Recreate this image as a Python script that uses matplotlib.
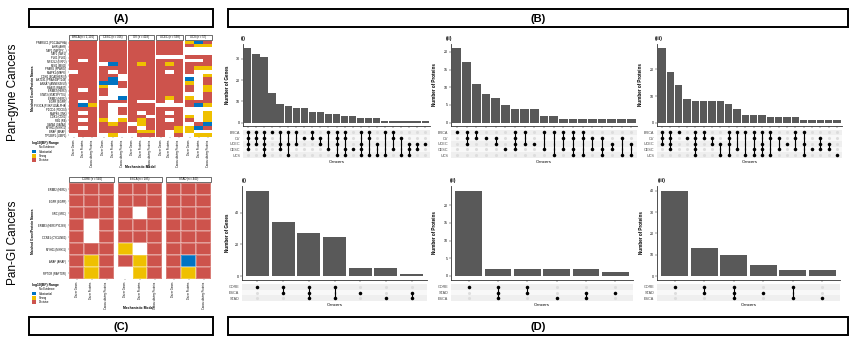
import matplotlib
matplotlib.use("Agg")
import matplotlib.pyplot as plt
from matplotlib.colors import ListedColormap
from matplotlib.patches import Patch, Rectangle
import numpy as np

plt.rcParams["font.family"] = ["Liberation Sans", "DejaVu Sans"]

W, H = 857, 347

# ---------------- data ----------------
evid_names = ["No Evidence", "Substantial", "Strong", "Decisive"]
evid_colors = ["#FFFFFF", "#0073C2", "#EFC000", "#CD534C"]
code = {"W": 0, "B": 1, "Y": 2, "R": 3}

models = ["Driver Genes", "Driver Proteins", "Cancer-driving Proteins"]

gyne_facets = ["BRCA (n = 1,100)", "CESC (n = 306)", "OV (n = 418)",
               "UCEC (n = 558)", "UCS (n = 57)"]
gyne_names = ["PPARGC1 (PGC1ALPHA)", "AHR (AHR)", "TAP1 (TAP1PY...)", "TAF1 (TAF1)",
              "PLK1 (PLK1)", "NFE2L2 (NRF2)", "MSI2 (MSI2)", "PPARG (PPARG)",
              "MAPK1 (MAPK)", "CDH1 (ECADHERIN)", "AKT1S1 (PRAS40PT246)",
              "ANXA7 (ANNEXINVII)", "RAB25 (RAB25)", "ERBB3 (HER3)",
              "STAT3 (STAT3PY705)", "ERBB2 (HER2)", "EGFR (EGFR)",
              "PIK3CA (PI3KP110ALPHA)", "PDCD4 (PDCD4)", "MAPK8 (JNK)",
              "CDK1 (CDK1)", "RB1 (RB)", "GATA3 (GATA3)", "MYH11 (MYH11)",
              "BRAF (BRAF)", "TP53BP1 (53BP1)"]
gyne_brca = ["RRR", "RRR", "RRR", "RRR", "RRR", "RWR", "RRR", "RRR", "WRR", "RRR",
             "RRR", "RRR", "RRR", "RWR", "RRR", "RRR", "RWR", "RBY", "RRR", "RWR",
             "RRR", "RWR", "RRR", "RWR", "RRR", "WRR"]
gyne_cesc = ["RRR", "RRR", "RRR", "RRR", "RRR", "RRR", "WBR", "RRR", "RWR", "RRW",
             "RBW", "BBR", "YWR", "RWW", "RWW", "WWB", "RRR", "RWW", "RWR", "RWR",
             "RWW", "YWY", "RYR", "RRR", "RRR", "WYW"]
gyne_ov = ["RRR", "RRR", "RRR", "RRR", "RRR", "RRR", "RYR", "RRR", "RRR", "RRR",
           "RRR", "RRR", "RRR", "RRR", "RRR", "RRR", "RWW", "RRR", "RRR", "RWR",
           "RRW", "RYR", "WYR", "RWR", "RYY", "WRR"]
gyne_ucec = ["RRR", "RRR", "RRR", "RRR", "WWW", "RRR", "RYR", "RRR", "RWR", "RRR",
             "RRR", "RRR", "RRR", "RRR", "RRR", "RYR", "RWR", "WWW", "RRR", "RWR",
             "RRR", "RWR", "RRR", "RRY", "RWY", "RWR"]
gyne_ucs = ["YBR", "RYY", "WWW", "WWW", "RRR", "WWR", "RRR", "RYY", "RWW", "WWY",
            "BWR", "YWR", "RWY", "RWY", "WWR", "YWR", "RRR", "RBY", "WWW", "WWY",
            "YWY", "RWY", "WRB", "YBR", "YWW", "WYY"]

gi_facets = ["CORE (n = 540)", "ESCA (n = 185)", "STAD (n = 443)"]
gi_names = ["ERBB2 (HER2)", "EGFR (EGFR)", "SRC (SRC)", "ERBB3 (HER3PY1289)",
            "CCNE1 (CYCLINE1)", "MYH11 (MYH11)", "ARAF (ARAF)", "RPTOR (RAPTOR)"]
gi_core = ["RRR", "RRR", "RRR", "RWR", "RWR", "RRR", "RYR", "RYR"]
gi_esca = ["RRR", "RRR", "RWR", "RRR", "RRR", "YWR", "RYR", "WYR"]
gi_stad = ["RRR", "RRR", "RRR", "RRR", "RRR", "RRR", "RBR", "RYR"]

gyne_sets = ["BRCA", "OV", "UCEC", "CESC", "UCS"]
gyne_gene_counts = [35, 32, 31, 14, 9, 8, 7, 7, 5, 5, 4, 4, 3, 3, 2, 2, 2, 1, 1, 1, 1, 1, 1]
gyne_gene_combos = ["BRCA|OV|UCEC|CESC", "BRCA|OV|UCEC", "BRCA|OV|UCEC|CESC|UCS", "BRCA",
                    "BRCA|UCEC|CESC", "BRCA|UCEC|UCS", "BRCA|UCEC", "OV", "BRCA|OV",
                    "OV|UCEC", "BRCA|CESC", "BRCA|OV|UCEC|UCS", "BRCA|OV|CESC|UCS",
                    "CESC", "BRCA|UCEC|CESC|UCS", "BRCA|OV|UCS", "UCEC|UCS", "BRCA|UCS",
                    "BRCA|OV|CESC", "OV|UCS", "UCEC|CESC|UCS", "UCEC|CESC", "UCEC"]
gyne_prot_counts = [21, 17, 11, 8, 7, 5, 4, 4, 4, 2, 2, 1, 1, 1, 1, 1, 1, 1, 1]
gyne_prot_combos = ["BRCA", "BRCA|OV|UCEC", "BRCA|OV", "OV", "OV|UCEC", "CESC",
                    "BRCA|OV|UCEC|CESC", "BRCA|UCEC", "UCEC", "BRCA|CESC", "BRCA|UCS",
                    "BRCA|OV|CESC", "BRCA|OV|CESC|UCS", "BRCA|OV|UCS", "OV|CESC",
                    "OV|CESC|UCS", "UCEC|CESC", "OV|UCS", "UCEC|UCS"]
gyne_prot2_counts = [28, 19, 14, 9, 8, 8, 8, 8, 7, 5, 3, 3, 3, 2, 2, 2, 2, 1, 1, 1, 1, 1]
gyne_prot2_combos = ["BRCA|OV|UCEC", "BRCA|OV|UCEC|CESC", "BRCA", "OV",
                     "BRCA|OV|UCEC|CESC|UCS", "BRCA|OV", "OV|UCEC", "UCEC|UCS",
                     "BRCA|OV|UCEC|UCS", "BRCA|CESC", "BRCA|UCS", "BRCA|OV|CESC|UCS",
                     "BRCA|UCEC|CESC|UCS", "BRCA|OV|UCS", "OV|CESC", "UCEC",
                     "BRCA|OV|CESC", "BRCA|UCEC|UCS", "CESC", "OV|UCEC|CESC",
                     "UCEC|CESC", "UCS"]

gi_sets_genes = ["CORE", "ESCA", "STAD"]
gi_gene_counts = [54, 34, 27, 25, 5, 5, 1]
gi_gene_combos = ["CORE", "CORE|ESCA", "CORE|ESCA|STAD", "CORE|STAD", "ESCA", "STAD",
                  "ESCA|STAD"]
gi_sets_prot = ["CORE", "STAD", "ESCA"]
gi_prot_counts = [24, 2, 2, 2, 2, 1]
gi_prot_combos = ["CORE", "CORE|STAD|ESCA", "CORE|STAD", "ESCA", "STAD|ESCA", "STAD"]
gi_prot2_counts = [40, 13, 10, 5, 3, 3]
gi_prot2_combos = ["CORE", "CORE|STAD", "CORE|STAD|ESCA", "STAD", "CORE|ESCA", "ESCA"]

# ---------------- figure ----------------
fig = plt.figure(figsize=(W / 100, H / 100), dpi=100)
cmap = ListedColormap(evid_colors)


def px_axes(x0, y0, x1, y1):
    return fig.add_axes([x0 / W, 1 - y1 / H, (x1 - x0) / W, (y1 - y0) / H])


over = fig.add_axes([0, 0, 1, 1])
over.set_xlim(0, W)
over.set_ylim(H, 0)
over.axis("off")


def header(x0, y0, x1, y1, txt):
    over.add_patch(Rectangle((x0, y0), x1 - x0, y1 - y0, fill=False, lw=1.4, ec="black"))
    over.text((x0 + x1) / 2, (y0 + y1) / 2 + 0.5, txt, ha="center", va="center",
              fontsize=8, fontweight="bold")


header(29, 9, 213, 27, "(A)")
header(228, 9, 848, 27, "(B)")
header(29, 317, 213, 335, "(C)")
header(228, 317, 848, 335, "(D)")
over.text(13, 92, "Pan-gyne Cancers", rotation=90, ha="center", va="center", fontsize=8.5)
over.text(13, 243, "Pan-GI Cancers", rotation=90, ha="center", va="center", fontsize=8.5)


def heat_facet(x0, x1, y0, y1, rows, title, names=None, fine=False):
    ax = px_axes(x0, y0, x1, y1)
    m = np.array([[code[c] for c in r] for r in rows])
    if fine:
        ax.imshow(m, cmap=cmap, vmin=-0.5, vmax=3.5, aspect="auto",
                  interpolation="nearest", extent=(0, 3, len(rows), 0))
    else:
        ax.pcolormesh(m, cmap=cmap, vmin=-0.5, vmax=3.5,
                      edgecolors=(1, 1, 1, 0.25), linewidth=0.3)
    ax.set_xlim(0, 3)
    ax.set_ylim(len(rows), 0)
    for s in ax.spines.values():
        s.set_visible(False)
    ax.set_xticks(np.arange(3) + 0.5)
    ax.set_xticklabels(models, rotation=90, fontsize=1.9)
    if names:
        ax.set_yticks(np.arange(len(rows)) + 0.5)
        ax.set_yticklabels(names, fontsize=1.9)
    else:
        ax.set_yticks([])
    ax.tick_params(length=1, width=0.3, pad=1, color="#444444")
    hpx = (y1 - y0)
    ax.add_patch(Rectangle((0.0, 1 + 1.2 / hpx), 1.0, 5.0 / hpx, transform=ax.transAxes,
                           clip_on=False, fc="white", ec="#333333", lw=0.5))
    ax.text(0.5, 1 + 3.7 / hpx, title, transform=ax.transAxes, ha="center",
            va="center", fontsize=2.0)
    return ax


gyne_x = [(69, 97), (99, 126), (128, 154), (156, 183), (185, 212)]
gyne_data = [gyne_brca, gyne_cesc, gyne_ov, gyne_ucec, gyne_ucs]
for i, ((a, b), rows) in enumerate(zip(gyne_x, gyne_data)):
    heat_facet(a, b, 41, 137, rows, gyne_facets[i], gyne_names if i == 0 else None,
               fine=True)

gi_x = [(69, 114), (118, 162), (166, 211)]
gi_data = [gi_core, gi_esca, gi_stad]
for i, ((a, b), rows) in enumerate(zip(gi_x, gi_data)):
    heat_facet(a, b, 183, 279, rows, gi_facets[i], gi_names if i == 0 else None)

for yc, xc in [(88, 33), (231, 33)]:
    over.text(xc, yc, "Matched Gene/Protein Names", rotation=90, ha="center",
              va="center", fontsize=2.3, fontweight="bold")
over.text(140, 167, "Mechanistic Model", ha="center", va="center", fontsize=2.4,
          fontweight="bold")
over.text(138, 308, "Mechanistic Model", ha="center", va="center", fontsize=2.4,
          fontweight="bold")

handles = [Patch(facecolor=c, edgecolor="none") for c in evid_colors]
for ytop in (141, 283):
    lg = fig.legend(handles, evid_names, loc="upper left",
                    bbox_to_anchor=(32 / W, 1 - ytop / H), frameon=False,
                    fontsize=2.0, title="log10(BF) Range", title_fontsize=2.4,
                    handlelength=1.6, handleheight=1.6, labelspacing=0.1,
                    handletextpad=0.8, borderpad=0, borderaxespad=0,
                    alignment="left")
    lg.get_title().set_fontweight("bold")


def upset(bx0, bx1, by0, by1, my0, my1, counts, combos, sets, ylim, yticks,
          ylabel, ylab_x, tag, tag_xy):
    ax = px_axes(bx0, by0, bx1, by1)
    x = np.arange(len(counts))
    ax.bar(x, counts, width=0.9, color="#595959")
    ax.set_xlim(-0.6, len(counts) - 0.4)
    ax.set_ylim(*ylim)
    ax.set_yticks(yticks)
    ax.set_xticks(x)
    ax.set_xticklabels([])
    ax.tick_params(labelsize=2.6, length=1.2, width=0.35, pad=1, color="#333333")
    for s in ["top", "right"]:
        ax.spines[s].set_visible(False)
    for s in ["left", "bottom"]:
        ax.spines[s].set_linewidth(0.6)
        ax.spines[s].set_color("#333333")
    ax.set_ylabel(ylabel, fontsize=3.3, fontweight="bold")
    ax.yaxis.set_label_coords((ylab_x - bx0) / (bx1 - bx0), 0.5)

    mx = px_axes(bx0, my0, bx1, my1)
    n = len(sets)
    for i in range(n):
        mx.axhspan(i - 0.5, i + 0.5, color="#EFEFEF" if i % 2 == 0 else "#F8F8F8", lw=0)
    gx, gy = np.meshgrid(x, np.arange(n))
    mx.scatter(gx.ravel(), gy.ravel(), s=5, color="#DDDDDD", lw=0, zorder=2)
    for j, combo in enumerate(combos):
        idx = [sets.index(s) for s in combo.split("|")]
        if len(idx) > 1:
            mx.vlines(j, min(idx), max(idx), color="black", lw=0.8, zorder=3)
        mx.scatter([j] * len(idx), idx, s=6.5, color="black", lw=0, zorder=4)
    mx.set_xlim(-0.6, len(counts) - 0.4)
    mx.set_ylim(n - 0.5, -0.5)
    mx.set_yticks(np.arange(n))
    mx.set_yticklabels(sets, fontsize=2.7, color="#444444")
    mx.set_xticks([])
    mx.tick_params(length=0, pad=2)
    for s in mx.spines.values():
        s.set_visible(False)
    mx.set_xlabel("Cancers", fontsize=3.2, labelpad=1.5)
    over.text(tag_xy[0], tag_xy[1], tag, ha="left", va="center", fontsize=3.6,
              fontweight="bold")


# top row (pan-gyne)
upset(243, 430, 44, 126, 129.5, 158, gyne_gene_counts, gyne_gene_combos, gyne_sets,
      (-1.55, 36.9), [0, 10, 20, 30], "Number of Genes", 230, "(i)", (241, 38.5))
upset(451, 637, 44, 126, 129.5, 158, gyne_prot_counts, gyne_prot_combos, gyne_sets,
      (-0.93, 22.2), [0, 5, 10, 15, 20], "Number of Proteins", 437, "(ii)", (446, 38.5))
upset(657, 842, 44, 126, 129.5, 158, gyne_prot2_counts, gyne_prot2_combos, gyne_sets,
      (-1.24, 29.5), [0, 10, 20], "Number of Proteins", 643, "(iii)", (655, 38.5))

# bottom row (pan-GI)
upset(242, 427, 186, 279.5, 283.8, 301.2, gi_gene_counts, gi_gene_combos, gi_sets_genes,
      (-2.2, 57.1), [0, 20, 40], "Number of Genes", 230, "(i)", (242, 180.5))
upset(451, 633, 186, 279.5, 283.8, 301.2, gi_prot_counts, gi_prot_combos, gi_sets_prot,
      (-0.99, 25.4), [0, 5, 10, 15, 20], "Number of Proteins", 437, "(ii)", (450, 180.5))
upset(657, 840, 186, 279.5, 283.8, 301.2, gi_prot2_counts, gi_prot2_combos, gi_sets_prot,
      (-1.64, 42.2), [0, 10, 20, 30, 40], "Number of Proteins", 644, "(iii)", (658, 180.5))

fig.savefig("out.png", dpi=100)
